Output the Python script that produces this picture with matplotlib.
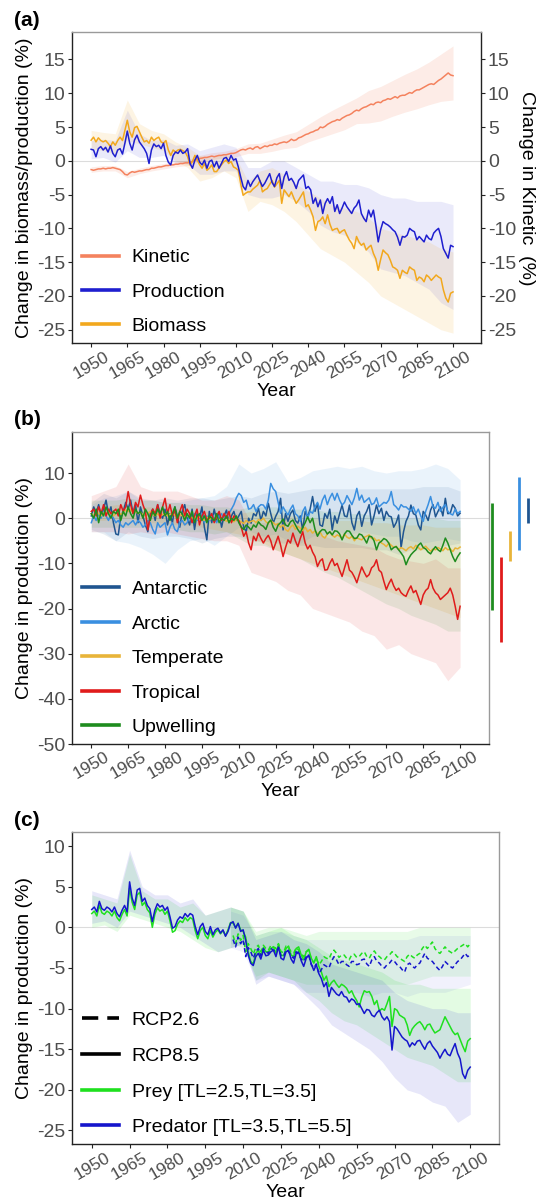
import matplotlib
matplotlib.use('Agg')  # sem interface gráfica

import numpy as np
import matplotlib.pyplot as plt
from matplotlib.lines import Line2D

plt.rcParams['font.family'] = ['Liberation Sans', 'DejaVu Sans']
plt.rcParams['axes.unicode_minus'] = False

# --- EIXOS DE TEMPO ---
anos = np.arange(1950, 2101)
anos_5 = np.arange(1950, 2101, 5)
anos_rcp26 = np.arange(2006, 2101)
anos_5_rcp26 = np.arange(2005, 2101, 5)
ticks_x = np.arange(1950, 2101, 15)

# =========================================================================
# (a) Kinetic / Production / Biomass
# =========================================================================
kinetic = [
    -1.3, -1.4, -1.3, -1.2, -1.2, -1.1, -1.2, -1.1, -1.1, -1.0,
    -1.1, -1.2, -1.3, -1.6, -2.0, -2.1, -1.8, -1.6, -1.7, -1.6,
    -1.5, -1.5, -1.4, -1.3, -1.3, -1.1, -1.1, -1.0, -0.9, -0.9,
    -0.8, -0.7, -0.7, -0.6, -0.6, -0.5, -0.5, -0.4, -0.4, -0.3,
    -0.3, -0.2, -0.1, 0.1, 0.2, 0.35, 0.4, 0.5, 0.5, 0.6,
    0.7, 0.6, 0.7, 0.8, 0.8, 0.9, 0.9, 1.0, 1.1, 1.1,
    1.2, 1.4, 1.6, 1.7, 1.6, 1.8, 1.9, 1.7, 2.0, 2.1,
    1.8, 2.0, 2.2, 2.1, 2.3, 2.3, 2.5, 2.4, 2.6, 2.7,
    2.8, 2.7, 2.9, 3.2, 3.0, 3.1, 3.4, 3.5, 3.7, 3.9,
    4.0, 4.2, 4.3, 4.5, 4.6, 5.0, 4.9, 5.1, 5.4, 5.6,
    5.8, 5.9, 6.1, 6.0, 6.3, 6.5, 6.7, 6.8, 7.0, 7.3,
    7.5, 7.4, 7.7, 7.9, 8.0, 8.2, 8.4, 8.3, 8.6, 8.7,
    8.6, 8.9, 9.0, 9.2, 9.1, 9.3, 9.5, 9.3, 9.6, 9.7,
    9.7, 9.9, 10.1, 10.0, 10.3, 10.5, 10.5, 10.7, 10.9, 11.1,
    11.3, 11.4, 11.3, 11.6, 11.9, 12.1, 12.4, 12.7, 13.0, 12.7, 12.6]
kinetic_min = [-1.7, -1.5, -1.5, -2.5, -1.9, -1.5, -1.2, -0.9, -0.7, -0.1, 0.2,
               0.4, 0.6, 1.1, 1.1, 1.4, 1.8, 2.0, 2.8, 3.4, 4.0, 4.6, 5.5, 5.6,
               5.9, 6.6, 7.2, 7.7, 8.3, 8.8, 9.0]
kinetic_max = [-0.9, -0.7, -0.7, -1.6, -1.1, -0.7, -0.4, -0.1, 0.1, 0.8, 1.2,
               1.4, 1.8, 2.5, 2.6, 3.2, 3.8, 4.3, 5.4, 6.5, 7.5, 8.4, 9.3, 10.4,
               11.0, 11.9, 12.8, 13.6, 14.6, 15.8, 17.0]

producao = [
    1.7, 1.6, 0.6, 1.8, 2.1, 1.6, 2.0, 1.3, 2.2, 1.1,
    0.6, 1.6, 1.8, 1.0, 2.6, 4.4, 2.6, 1.6, 3.1, 3.8,
    2.8, 2.3, 1.8, 1.1, -0.4, 1.6, 2.5, 2.1, 2.3, 1.8,
    2.6, 0.8, -0.2, -0.6, 0.8, 1.3, 1.1, 1.6, 1.1, 1.3,
    1.8, -0.4, -1.1, 0.1, 0.8, -0.2, -0.6, 0.1, -1.1, -0.1,
    0.1, -0.9, -0.1, -1.1, -0.4, 0.35, 0.5, -0.1, 0.8, 0.1,
    0.3, -0.9, -2.4, -3.8, -4.3, -2.9, -3.8, -3.1, -2.6, -2.1,
    -3.0, -3.8, -3.3, -2.6, -1.9, -3.2, -3.8, -2.5, -1.9, -4.1,
    -2.4, -1.6, -2.9, -2.6, -3.2, -4.1, -2.9, -2.5, -2.1, -4.1,
    -3.8, -4.3, -6.3, -5.5, -6.8, -5.8, -7.8, -6.3, -5.6, -6.3,
    -5.3, -7.5, -6.5, -7.8, -7.0, -6.1, -6.8, -7.3, -7.8, -7.0,
    -6.6, -5.8, -7.8, -8.5, -9.0, -7.3, -8.3, -7.3, -9.5, -12.0,
    -10.2, -9.0, -9.3, -9.5, -9.8, -10.2, -10.5, -11.3, -12.5, -11.2,
    -11.3, -11.0, -10.0, -10.3, -10.5, -11.7, -11.2, -11.6, -12.0, -11.0,
    -11.5, -11.7, -10.7, -10.3, -10.0, -11.2, -13.0, -13.7, -14.4, -12.5, -12.7]
producao_min = [0.3, 0.5, -0.2, 1.5, 0.5, 0.5, 0.8, -0.3, -0.5, -2.0, -2.0,
                -1.5, -1.5, -5.0, -5.5, -5.5, -5.0, -6.0, -7.5, -9.5, -10.5,
                -11.0, -12.0, -13.5, -16.0, -16.5, -17.0, -18.0, -19.0, -21.0, -22.0]
producao_max = [3.0, 3.2, 3.0, 7.5, 4.0, 3.0, 3.2, 2.3, 2.5, 1.5, 2.0, 2.5,
                2.0, -1.0, -1.0, 0.0, 0.0, -1.0, -2.0, -3.0, -3.0, -3.5, -3.5,
                -4.0, -5.0, -5.5, -5.5, -6.0, -6.0, -6.0, -6.5]

biomassa = [
    3.05, 3.5, 2.8, 3.4, 3.0, 2.8, 3.0, 2.6, 2.1, 2.8,
    2.3, 3.0, 3.5, 3.0, 4.5, 6.0, 4.3, 3.5, 4.9, 5.1,
    4.3, 3.5, 2.8, 3.0, 2.6, 3.5, 3.0, 3.3, 3.5, 2.8,
    2.6, 3.0, 1.6, 0.8, 1.6, 1.3, 1.6, 1.7, 1.5, 1.3,
    0.6, -0.6, -0.1, 0.8, 0.1, -0.6, -1.1, -0.4, -1.4, -1.1,
    -0.6, -1.6, -1.6, -1.1, -0.6, -0.15, 0.1, -0.4, -0.1, -0.9,
    -1.1, -1.4, -3.4, -5.1, -4.8, -4.6, -4.6, -4.2, -3.9, -3.6,
    -2.9, -4.6, -4.3, -4.1, -3.5, -2.9, -3.9, -3.4, -2.9, -6.3,
    -4.3, -4.8, -5.3, -4.6, -5.5, -6.3, -5.8, -5.2, -4.6, -6.8,
    -6.5, -7.3, -8.3, -10.3, -9.0, -8.8, -8.3, -9.3, -8.0, -9.4,
    -10.3, -10.1, -10.0, -10.7, -10.4, -10.2, -11.0, -11.7, -12.2, -13.0,
    -11.2, -12.0, -12.5, -12.2, -13.2, -12.8, -12.5, -13.7, -14.5, -16.2,
    -14.6, -13.2, -13.6, -13.9, -14.7, -15.7, -15.9, -16.2, -17.4, -16.2,
    -16.5, -16.7, -15.7, -16.0, -16.2, -17.7, -17.2, -17.4, -17.9, -16.9,
    -17.2, -17.7, -17.3, -16.9, -17.2, -17.4, -19.1, -20.3, -20.9, -19.6, -19.4]
biomassa_min = [1.8, 1.5, 1.0, 3.0, 2.5, 2.0, 1.5, 0.0, -1.0, -3.0, -2.5,
                -1.5, -2.5, -7.5, -6.0, -6.5, -7.5, -9.0, -11.0, -13.0, -14.0,
                -15.0, -16.5, -18.0, -20.0, -21.0, -22.0, -23.0, -24.0, -25.0, -25.5]
biomassa_max = [4.5, 4.2, 4.0, 9.0, 5.5, 4.5, 4.0, 2.8, 2.0, 0.8, 0.5, 1.0,
                0.5, -3.0, -1.5, -1.0, -2.0, -3.5, -4.5, -5.5, -6.5, -7.0, -7.5,
                -8.5, -10.0, -10.5, -11.0, -11.5, -12.0, -13.0, -13.5]

# =========================================================================
# (b) Regiões
# =========================================================================
antartico = [
    0.5, 2.5, 1.0, 3.0, 0.5, 2.0, 4.0, 1.0, 2.5, -1.0,
    -3.5, -3.7, 0.5, 1.5, 3.5, 2.0, 4.0, 1.0, 3.0, -1.0,
    2.5, 0.5, -1.5, -3.0, 1.0, 2.0, -0.5, 3.0, 1.0, 0.0,
    2.0, -1.5, 1.0, -1.0, 2.5, 0.5, -2.0, 1.5, 3.0, 0.0,
    -1.5, 2.0, -2.5, 1.0, 0.0, 2.5, -2.0, -4.8, 1.5, -1.0,
    2.0, -0.5, 1.0, -2.0, 0.5, 1.8, -1.0, 0.5, 1.5, -0.5,
    0.5, 1.5, -2.0, -3.0, 0.0, -1.1, 1.0, 0.5, 2.2, -0.5,
    1.5, 0.5, 3.3, 1.0, -1.1, 0.4, 1.5, 4.4, -2.6, 1.0,
    -0.7, 1.0, 1.8, -0.5, -1.1, 0.5, -2.6, 1.5, 0.3, 2.0,
    4.8, 1.5, 3.3, -1.5, -1.8, 1.0, 0.0, 2.0, -2.6, 0.5,
    -1.1, 1.0, 2.9, 0.5, 0.3, 2.9, -1.0, -2.6, 0.5, 1.5,
    -1.8, 0.5, 1.5, 3.0, -1.5, 0.5, 2.9, 1.0, 2.2, -0.5,
    1.5, 0.5, 0.3, -2.0, -1.0, 0.7, -6.5, -3.0, -0.7, 0.5,
    2.9, 1.0, 0.7, -1.5, -2.6, 1.5, 0.7, -0.5, 1.8, 3.0,
    0.3, 1.5, 2.5, 0.5, 4.4, 1.0, 1.1, 3.0, 2.2, 0.5, 1.1]
antartico_min = [-2.5, -3.5, -5.0, -3.0, -4.0, -4.5, -4.0, -4.0, -4.5, -5.5,
                 -4.5, -4.0, -4.0, -5.0, -5.0, -5.5, -5.5, -6.0, -6.0, -6.5,
                 -6.5, -6.5, -6.5, -7.0, -7.0, -8.0, -7.0, -7.0, -6.5, -6.0, -5.5]
antartico_max = [3.5, 5.5, 4.5, 6.0, 4.5, 4.0, 4.5, 4.0, 4.5, 4.5, 4.0, 4.5,
                 5.0, 4.5, 5.5, 6.0, 5.5, 6.0, 6.5, 6.5, 6.5, 6.5, 6.5, 6.5,
                 6.5, 6.5, 6.5, 7.0, 7.0, 7.0, 6.0]

artico = [
    -1.0, 0.5, -0.5, 1.0, 0.0, 1.5, 0.5, -0.5, 1.0, 0.0,
    -1.0, -0.5, -1.5, -2.0, -1.0, -1.5, -1.0, -0.5, -1.5, -0.5,
    -1.0, -2.0, -1.5, -0.5, -1.0, -2.5, -3.5, -1.0, -2.0, -1.5,
    -1.0, -3.7, -2.0, -1.0, -2.5, -3.0, -1.0, -0.5, -1.5, -1.0,
    0.5, -1.0, 1.0, -0.5, 0.0, 1.0, -1.0, 0.5, -0.5, 1.0,
    0.0, -1.0, 0.5, 1.0, -0.5, 0.5, 1.0, 2.0, 3.0, 4.5,
    5.5, 5.0, 3.5, 4.0, 2.0, 2.2, 3.0, 1.5, 2.5, 3.0,
    2.9, 2.0, 4.0, 7.7, 6.5, 5.9, 3.5, 1.1, 2.5, 1.5,
    0.7, 2.0, 2.9, 1.0, 0.5, -0.7, 1.5, 2.5, 0.0, 1.5,
    1.1, 2.5, 3.5, 2.0, 4.0, 5.1, 3.0, 4.5, 5.5, 4.0,
    5.5, 4.0, 2.9, 3.5, 5.0, 4.0, 3.0, 4.5, 6.6, 4.0,
    5.1, 3.5, 4.0, 4.5, 3.0, 3.3, 4.5, 2.5, 3.0, 3.5,
    3.3, 4.0, 5.9, 3.0, 2.5, 1.8, 3.0, 2.5, 2.5, 2.0,
    1.5, 2.5, 1.0, 2.0, 0.5, -0.7, 1.5, 3.0, 4.8, 2.5,
    2.2, 3.5, 1.5, 2.4, 3.0, 1.5, 1.0, 0.7, 2.0, 1.0, 1.5]
artico_min = [-3.0, -3.0, -5.0, -5.5, -6.5, -8.0, -10.0, -7.0, -5.0, -4.5,
              -6.0, -4.0, -2.0, -3.0, -4.0, -3.5, -5.0, -5.5, -4.0, -3.5,
              -3.0, -3.5, -3.0, -3.5, -4.0, -4.0, -5.0, -5.5, -5.0, -4.5, -5.0]
artico_max = [3.0, 4.5, 5.0, 6.0, 4.0, 4.0, 3.5, 3.5, 4.0, 4.5, 5.0, 7.0,
              12.0, 10.0, 11.0, 12.5, 8.0, 9.0, 10.5, 11.0, 11.5, 11.0, 11.5,
              10.5, 10.0, 10.5, 10.5, 11.0, 12.0, 11.0, 8.5]

temperado = [
    1.0, 0.5, 1.5, 1.0, 0.5, 1.2, 0.8, 1.5, 1.0, 0.5,
    1.0, 1.5, 0.8, 1.2, 1.8, 1.5, 2.0, 1.2, 1.5, 1.0,
    1.3, 0.8, 0.5, 1.0, 1.5, 0.8, 0.5, 1.0, 0.3, 0.8,
    1.0, 0.5, 0.8, 1.2, 0.6, 0.3, 0.8, 0.5, 0.2, 0.6,
    0.3, 0.0, 0.5, -0.2, 0.3, 0.0, -0.5, 0.2, -0.3, 0.0,
    -0.2, 0.3, -0.5, 0.0, -0.3, -0.7, -0.2, -0.5, -0.8, -0.3,
    -0.6, -0.8, -1.2, -0.5, -1.0, -0.7, -0.5, -1.0, -0.3, -0.5,
    0.0, -0.8, -1.2, -0.5, -1.0, -1.5, -1.2, -2.0, -1.5, -2.5,
    -2.9, -2.0, -1.5, -2.5, -1.8, -2.2, -2.8, -2.0, -3.0, -2.5,
    -3.3, -2.8, -3.5, -3.0, -4.0, -4.4, -3.5, -3.0, -3.8, -4.2,
    -3.7, -4.0, -4.5, -3.5, -4.2, -4.5, -4.0, -5.0, -4.3, -4.6,
    -4.8, -4.2, -4.0, -3.7, -4.5, -4.4, -5.0, -4.8, -5.5, -5.8,
    -6.3, -5.5, -6.0, -6.5, -6.2, -7.0, -6.5, -6.8, -7.2, -6.6,
    -6.3, -6.8, -6.0, -6.5, -7.0, -6.6, -6.2, -6.8, -7.3, -6.8,
    -7.0, -6.5, -6.8, -7.2, -6.5, -7.0, -6.8, -7.4, -6.6, -6.8, -6.4]
temperado_min = [-0.5, -0.5, 0.0, 0.0, -0.5, -1.0, -1.0, -1.5, -1.5, -2.0,
                 -2.5, -3.0, -3.5, -4.5, -5.5, -7.0, -8.0, -9.0, -10.0, -11.0,
                 -12.0, -13.0, -14.0, -15.0, -16.0, -17.0, -18.0, -19.0, -20.0,
                 -21.0, -22.0]
temperado_max = [2.5, 2.5, 3.0, 3.0, 2.5, 2.5, 2.0, 2.0, 1.5, 1.5, 1.5, 1.5,
                 1.0, 1.5, 1.5, 1.0, 0.5, 0.5, 0.0, 0.0, -0.5, -0.5, -0.5, -1.0,
                 -1.0, -1.5, -1.5, -1.5, -2.0, -2.0, -2.0]

tropical = [
    1.5, 2.0, 0.5, 2.5, 1.0, 3.0, 0.5, 2.0, 1.0, 1.5,
    2.0, 0.5, 3.0, 1.5, 2.5, 5.9, 3.0, 1.0, 3.5, 2.5,
    5.1, 3.0, 1.5, -2.6, 0.5, 2.0, 1.0, 3.0, 0.0, 2.5,
    4.4, 1.0, 3.0, 0.5, 2.0, -1.0, 1.5, 3.0, 0.5, 2.0,
    1.0, -1.0, 0.5, 2.0, -1.5, 0.5, 1.5, -0.5, 0.0, 1.0,
    -1.0, 0.5, 1.5, -0.5, 1.0, 0.0, 1.5, -1.0, 0.5, 0.0,
    -0.5, -2.0, -4.0, -3.0, -5.5, -7.0, -4.0, -5.0, -3.3, -4.5,
    -5.5, -4.5, -3.8, -5.0, -7.0, -5.5, -4.0, -6.0, -8.5, -6.5,
    -4.8, -5.5, -3.3, -5.0, -6.3, -4.5, -3.0, -5.5, -6.8, -6.0,
    -7.5, -8.5, -10.7, -9.5, -9.0, -11.5, -11.4, -10.0, -9.0, -10.5,
    -10.0, -11.5, -12.9, -11.0, -9.2, -11.5, -12.0, -13.0, -14.3, -12.5,
    -10.8, -12.0, -13.0, -12.5, -11.0, -10.5, -9.2, -11.5, -12.0, -14.0,
    -15.8, -14.5, -13.5, -15.0, -16.0, -15.5, -16.5, -17.0, -17.3, -16.0,
    -15.0, -16.5, -16.0, -17.5, -19.1, -17.0, -16.0, -15.5, -13.6, -15.5,
    -16.5, -17.0, -18.0, -17.5, -17.0, -16.5, -15.5, -17.0, -19.5, -22.4, -19.5]
tropical_min = [-3.0, -3.0, -3.0, -3.5, -3.0, -3.5, -3.0, -3.5, -4.0, -4.5,
                -5.0, -5.0, -6.0, -12.0, -13.0, -14.0, -16.0, -17.0, -20.0,
                -21.0, -22.0, -23.0, -25.0, -26.0, -29.0, -28.0, -30.0, -31.0,
                -32.0, -36.0, -33.0]
tropical_max = [5.0, 6.0, 7.0, 12.0, 7.0, 6.0, 6.0, 6.0, 5.0, 4.0, 4.0, 5.0,
                4.0, -1.0, -1.0, -1.0, 0.0, -1.0, -3.0, -4.0, -5.0, -5.5, -6.0,
                -6.5, -8.0, -9.0, -9.5, -10.0, -9.0, -11.0, -11.0]

ressurgencia = [
    1.0, 0.0, 2.0, -1.0, 1.5, 0.5, 2.5, 1.0, 0.0, 1.5,
    1.0, 2.0, -0.5, 1.5, 0.5, 2.5, 1.0, 0.0, 2.0, 1.0,
    1.5, 0.0, 2.0, 1.0, -0.5, 1.5, 0.5, 2.0, 1.0, 2.5,
    0.5, 1.5, -0.5, 1.0, 2.5, 0.0, 1.5, 1.0, -0.5, 1.0,
    0.0, 1.5, -1.0, 0.5, 1.0, -0.5, 0.5, -1.0, 0.5, 0.0,
    -0.5, 1.0, -1.0, 0.0, -0.5, 0.5, -1.0, 0.0, -0.5, 0.5,
    -1.0, -2.0, -2.5, -1.5, -2.0, -2.6, -1.5, -2.0, -0.8, -1.5,
    -1.8, -2.5, -1.0, -0.4, -2.0, -2.9, -1.5, -1.0, -0.2, -1.5,
    -1.8, -0.8, -0.4, -1.5, -2.5, -3.3, -2.0, -1.0, 0.3, -1.0,
    0.0, -2.5, -4.0, -3.0, -2.5, -2.6, -3.5, -3.0, -3.7, -2.8,
    -2.9, -3.5, -4.8, -3.5, -2.8, -2.9, -3.8, -4.5, -4.4, -3.5,
    -3.7, -4.5, -5.5, -4.0, -4.1, -5.0, -7.0, -5.5, -5.1, -4.5,
    -4.8, -5.5, -7.0, -6.5, -6.3, -7.0, -7.7, -8.5, -10.3, -9.0,
    -8.1, -7.5, -7.0, -6.0, -5.5, -6.5, -6.8, -7.5, -7.9, -7.0,
    -6.3, -7.0, -7.4, -6.0, -4.4, -5.5, -7.0, -8.5, -9.6, -8.5, -7.7]
ressurgencia_min = [-2.0, -2.0, -2.0, -2.0, -2.0, -2.0, -2.0, -2.5, -3.0, -3.0,
                    -3.5, -3.0, -4.5, -6.0, -6.0, -7.0, -8.0, -9.0, -10.5, -12.0,
                    -13.0, -14.5, -16.0, -17.5, -19.0, -20.0, -21.5, -22.5, -23.5,
                    -25.0, -25.0]
ressurgencia_max = [4.0, 4.0, 4.0, 4.5, 4.0, 4.0, 3.5, 3.5, 3.0, 3.0, 2.5, 2.5,
                    2.0, 2.5, 2.5, 2.5, 2.0, 2.0, 2.0, 1.5, 1.5, 1.0, 1.0, 0.5,
                    0.5, 0.0, 0.0, 0.0, 0.0, -0.5, -0.5]

# barras laterais (faixa final de cada região)
barras_nomes = ['Upwelling', 'Tropical', 'Temperate', 'Arctic', 'Antarctic']
barras_min = [-20.4, -27.5, -9.4, -7.0, -1.1]
barras_max = [3.3, -8.5, -2.8, 9.1, 4.4]

# =========================================================================
# (c) Presa / Predador, RCP2.6 e RCP8.5
# =========================================================================
predador_85 = [
    2.2, 2.5, 1.9, 3.2, 2.3, 2.1, 2.5, 2.3, 1.9, 2.5,
    1.7, 1.3, 2.1, 2.7, 1.9, 5.6, 3.6, 2.7, 4.6, 4.8,
    3.2, 3.6, 2.7, 2.3, 0.7, 2.1, 2.9, 2.5, 2.7, 2.1,
    2.5, 1.3, -0.1, 0.1, 0.9, 1.3, 1.1, 1.7, 1.3, 1.7,
    1.5, 0.1, -0.9, 0.1, 0.5, -0.5, -0.9, 0.1, -0.9, -0.3,
    -0.1, -0.7, -0.3, -1.1, -0.5, 0.5, 0.7, -0.1, 0.5, -0.5,
    -0.3, -1.6, -3.4, -4.4, -4.7, -3.6, -3.2, -3.9, -2.8, -3.5,
    -3.4, -3.0, -2.8, -3.6, -2.4, -3.8, -4.0, -3.0, -2.8, -3.9,
    -4.4, -3.2, -3.0, -4.1, -4.8, -3.8, -3.4, -4.5, -5.3, -4.6,
    -5.7, -6.3, -7.3, -6.8, -8.5, -7.4, -7.8, -8.2, -8.4, -7.9,
    -8.5, -8.6, -9.2, -8.8, -9.0, -9.5, -9.4, -10.0, -10.6, -10.1,
    -10.2, -10.8, -11.0, -10.5, -10.2, -11.0, -11.4, -11.0, -11.6, -15.1,
    -12.2, -12.5, -13.0, -13.5, -13.8, -14.0, -14.7, -14.2, -14.5, -14.0,
    -13.9, -14.5, -15.0, -14.3, -14.0, -14.6, -15.0, -15.4, -16.1, -15.5,
    -15.0, -15.6, -15.8, -15.0, -14.3, -15.5, -16.2, -18.0, -18.6, -17.6, -17.2]
predador_85_min = [0.5, 0.8, 0.0, 2.0, 1.5, 1.0, 0.5, 0.0, -1.0, -2.0, -3.0,
                   -2.5, -2.0, -7.0, -6.0, -6.5, -7.0, -8.5, -10.0, -12.0, -13.0,
                   -14.0, -15.0, -16.5, -18.5, -20.0, -20.5, -21.5, -22.0, -24.0, -23.0]
predador_85_max = [4.5, 4.0, 3.5, 9.5, 5.0, 4.0, 4.0, 3.0, 3.5, 1.5, 2.0, 2.5,
                   2.0, -1.5, -1.0, -0.5, -1.5, -2.0, -3.0, -4.5, -5.0, -5.5,
                   -6.0, -6.5, -8.0, -9.0, -9.5, -10.0, -10.0, -10.5, -10.5]

presa_85 = [
    1.7, 2.0, 1.4, 2.7, 1.8, 1.6, 2.0, 1.8, 1.4, 2.0,
    1.2, 0.8, 1.6, 2.2, 1.4, 4.8, 3.1, 2.2, 4.0, 4.3,
    2.7, 3.1, 2.2, 1.8, 0.0, 1.6, 2.4, 2.0, 2.2, 1.6,
    2.0, 0.8, -0.6, -0.4, 0.4, 0.8, 0.6, 1.2, 0.8, 1.2,
    1.0, -0.4, -1.4, -0.4, 0.0, -1.0, -1.4, -0.4, -1.2, -0.6,
    -0.3, -0.8, -0.4, -1.0, -0.3, 0.6, 0.5, 0.0, 0.5, -0.3,
    -0.5, -1.2, -3.0, -4.2, -4.5, -3.2, -2.8, -3.5, -2.5, -3.0,
    -3.0, -2.6, -2.4, -3.2, -2.1, -3.4, -3.5, -2.6, -2.3, -3.4,
    -3.6, -2.6, -2.4, -3.4, -4.0, -3.0, -2.7, -3.8, -4.4, -3.6,
    -4.8, -5.5, -6.5, -6.0, -7.3, -6.8, -6.5, -7.0, -7.4, -7.0,
    -7.2, -7.5, -8.1, -7.8, -8.5, -9.0, -9.8, -8.6, -7.8, -8.0,
    -7.9, -8.5, -9.5, -9.0, -10.3, -10.0, -10.2, -9.4, -8.5, -12.2,
    -10.0, -10.2, -10.8, -11.0, -11.2, -12.0, -13.3, -12.5, -12.1, -11.8,
    -11.6, -12.0, -12.6, -12.0, -11.9, -12.5, -13.0, -12.8, -12.6, -11.8,
    -11.0, -11.6, -12.2, -12.8, -13.2, -13.0, -13.8, -14.6, -15.3, -14.0, -13.7]
presa_85_min = [0.0, 0.3, -0.5, 1.5, 1.0, 0.5, 0.0, -0.5, -1.5, -2.5, -3.0,
                -2.5, -2.0, -6.5, -5.5, -6.0, -6.5, -8.0, -9.0, -10.5, -11.5,
                -12.0, -13.0, -14.0, -15.0, -16.0, -16.5, -17.0, -18.0, -19.0, -19.0]
presa_85_max = [4.0, 3.5, 3.0, 9.0, 4.5, 3.5, 3.5, 2.5, 3.0, 1.5, 2.0, 2.5,
                2.0, -1.0, -0.5, 0.0, -1.0, -1.5, -2.5, -3.5, -4.0, -4.5, -5.0,
                -5.5, -6.5, -7.0, -7.0, -7.5, -7.5, -7.5, -7.5]

predador_26 = [
    -1.5, -2.4, -1.2, -2.0,
    -1.5, -3.6, -2.5, -3.0, -3.8, -3.0, -2.6, -3.5, -2.6, -3.0,
    -3.2, -2.6, -2.8, -3.0, -2.5, -3.5, -3.6, -2.8, -3.0, -3.5,
    -3.8, -3.0, -3.3, -3.9, -4.2, -3.6, -3.4, -4.6, -5.0, -4.5,
    -5.7, -5.2, -4.6, -4.8, -5.0, -4.2, -3.6, -4.0, -4.6, -4.2,
    -4.2, -4.6, -4.8, -4.2, -4.2, -4.6, -4.5, -4.0, -3.9, -4.5,
    -4.8, -4.0, -3.6, -4.2, -4.4, -4.8, -5.0, -4.6, -4.4, -4.0,
    -4.2, -4.6, -4.8, -5.2, -5.5, -4.6, -4.4, -4.8, -5.0, -4.6,
    -4.4, -3.8, -3.2, -3.8, -4.0, -4.2, -4.6, -5.0, -5.3, -4.8,
    -4.2, -4.5, -4.8, -5.0, -4.6, -4.2, -4.0, -3.6, -3.2, -3.6, -3.4]
predador_26_min = [-2.5, -3.0, -6.5, -6.0, -6.5, -7.0, -8.0, -8.0, -8.0, -8.0,
                   -8.0, -8.5, -8.0, -8.0, -8.5, -8.0, -8.0, -8.0, -7.5, -7.0]
predador_26_max = [2.0, 1.5, -1.0, -0.5, -0.5, -1.0, -1.5, -1.5, -1.5, -1.5,
                   -1.5, -1.5, -1.5, -1.5, -1.5, -1.0, -1.0, -1.0, -1.0, -1.0]

presa_26 = [
    -1.0, -2.0, -0.8, -1.6,
    -1.0, -3.0, -2.0, -2.6, -3.3, -2.5, -2.2, -3.0, -2.2, -2.6,
    -2.8, -2.2, -2.4, -2.6, -2.0, -3.0, -3.1, -2.3, -2.5, -3.0,
    -3.2, -2.5, -2.8, -3.3, -3.6, -3.0, -2.8, -3.9, -4.3, -3.8,
    -4.6, -4.2, -3.6, -3.8, -3.9, -3.2, -2.8, -3.2, -3.7, -3.4,
    -3.4, -3.8, -4.0, -3.4, -3.3, -3.7, -3.6, -3.2, -3.0, -3.6,
    -3.8, -3.2, -2.9, -3.4, -3.6, -3.9, -4.0, -3.6, -3.4, -3.0,
    -3.2, -3.6, -3.8, -4.0, -4.2, -3.6, -3.3, -3.6, -3.8, -3.4,
    -3.2, -2.6, -2.2, -2.6, -2.2, -1.8, -2.6, -3.0, -3.2, -2.8,
    -2.4, -2.8, -3.0, -3.2, -2.9, -2.6, -2.4, -2.2, -2.0, -2.4, -2.0]
presa_26_min = [-2.0, -2.5, -6.0, -5.5, -6.0, -6.5, -7.0, -7.0, -7.0, -7.0,
                -7.0, -7.0, -7.0, -7.0, -7.0, -6.5, -6.0, -6.0, -6.0, -6.0]
presa_26_max = [2.5, 2.0, -0.5, 0.0, 0.0, -0.5, -1.0, -0.5, -0.5, -0.5,
                -0.5, -0.5, -0.5, -0.5, -0.5, 0.0, 0.0, 0.0, 0.0, 0.0]

# --- CORES ---
cor_kinetic = '#F4825E'
cor_producao = '#1F1FCF'
cor_biomassa = '#F2A81D'
cor_antartico = '#1F5590'
cor_artico = '#3A8FE0'
cor_temperado = '#E8B439'
cor_tropical = '#E01B1B'
cor_ressurgencia = '#1E8C1E'
cor_presa = '#1FE01F'
cor_predador = '#1515CC'

TAM = 14
COR_EIXO = '#222222'
COR_BORDA = '#9A9A9A'
COR_TICK = '#4D4D4D'


def estilo_eixo(ax, ylim, yticks):
    ax.set_xlim(1942.2, 2111.6)
    ax.set_ylim(*ylim)
    ax.set_xticks(ticks_x)
    ax.set_yticks(yticks)
    ax.tick_params(axis='both', direction='out', length=3, width=0.8,
                   color=COR_EIXO, labelcolor=COR_TICK, labelsize=TAM, pad=2)
    ax.tick_params(axis='x', labelrotation=30, labelsize=12.5, pad=1)
    for lado in ['left', 'bottom']:
        ax.spines[lado].set_color(COR_EIXO)
        ax.spines[lado].set_linewidth(1.0)
    for lado in ['top', 'right']:
        ax.spines[lado].set_color(COR_BORDA)
        ax.spines[lado].set_linewidth(1.0)
    ax.axhline(0, color='#DCDCDC', lw=0.8, zorder=0)
    ax.set_xlabel('Year', fontsize=TAM, labelpad=1)


def legenda(ax, itens, pos, espaco):
    handles = [Line2D([], [], color=c, lw=2.6, ls=ls) for c, ls, _ in itens]
    rotulos = [r for _, _, r in itens]
    ax.legend(handles, rotulos, loc='lower left', bbox_to_anchor=pos,
              frameon=False, fontsize=TAM, borderpad=0, borderaxespad=0,
              handlelength=1.9, handletextpad=0.65, labelspacing=espaco)


fig = plt.figure(figsize=(5.36, 12.01), dpi=100)

# ---------------- (a) ----------------
ax_a = fig.add_axes([0.1349, 0.7142, 0.7625, 0.2588])
ax_a.fill_between(anos_5, kinetic_min, kinetic_max, color=cor_kinetic, alpha=0.15, lw=0)
ax_a.fill_between(anos_5, producao_min, producao_max, color=cor_producao, alpha=0.09, lw=0)
ax_a.fill_between(anos_5, biomassa_min, biomassa_max, color=cor_biomassa, alpha=0.12, lw=0)
ax_a.plot(anos, kinetic, color=cor_kinetic, lw=1.1)
ax_a.plot(anos, biomassa, color=cor_biomassa, lw=1.1)
ax_a.plot(anos, producao, color=cor_producao, lw=1.1)
estilo_eixo(ax_a, (-27.0, 19.0), np.arange(-25, 16, 5))
ax_a.spines['right'].set_color(COR_EIXO)
ax_a.set_ylabel('Change in biomass/production (%)', fontsize=TAM, labelpad=3)
legenda(ax_a, [(cor_kinetic, '-', 'Kinetic'), (cor_producao, '-', 'Production'),
               (cor_biomassa, '-', 'Biomass')], (0.024, 0.026), 0.86)

ax_a2 = ax_a.twinx()
ax_a2.set_ylim(-27.0, 19.0)
ax_a2.set_yticks(np.arange(-25, 16, 5))
ax_a2.tick_params(axis='y', direction='out', length=3, width=0.8,
                  color=COR_EIXO, labelcolor=COR_TICK, labelsize=TAM, pad=2)
for s in ax_a2.spines.values():
    s.set_visible(False)
ax_a2.set_ylabel('Change in Kinetic  (%)', fontsize=TAM, rotation=270,
                 labelpad=1, va='bottom')

# ---------------- (b) ----------------
ax_b = fig.add_axes([0.1345, 0.3805, 0.7771, 0.2595])
regioes = [
    (antartico, antartico_min, antartico_max, cor_antartico, 'Antarctic', 0.1),
    (artico, artico_min, artico_max, cor_artico, 'Arctic', 0.1),
    (temperado, temperado_min, temperado_max, cor_temperado, 'Temperate', 0.16),
    (tropical, tropical_min, tropical_max, cor_tropical, 'Tropical', 0.1),
    (ressurgencia, ressurgencia_min, ressurgencia_max, cor_ressurgencia, 'Upwelling', 0.1),
]
for serie, smin, smax, cor, nome, alfa in regioes:
    ax_b.fill_between(anos_5, smin, smax, color=cor, alpha=alfa, lw=0)
for serie, smin, smax, cor, nome, alfa in regioes:
    ax_b.plot(anos, serie, color=cor, lw=1.1)
estilo_eixo(ax_b, (-50, 19.0), np.arange(-50, 11, 10))
ax_b.set_ylabel('Change in production (%)', fontsize=TAM, labelpad=3)
legenda(ax_b, [(r[3], '-', r[4]) for r in regioes], (0.024, 0.025), 0.87)

ax_barras = fig.add_axes([489 / 536, 0.3805, 47 / 536, 0.2595])
ax_barras.set_ylim(-50, 19.0)
ax_barras.set_xlim(0.627, 5.94)
cores_barras = [cor_ressurgencia, cor_tropical, cor_temperado, cor_artico, cor_antartico]
ax_barras.vlines(np.arange(1, 6), barras_min, barras_max, colors=cores_barras, lw=2.0)
ax_barras.axis('off')

# ---------------- (c) ----------------
ax_c = fig.add_axes([0.1345, 0.0472, 0.7974, 0.2598])
ax_c.fill_between(anos_5, presa_85_min, presa_85_max, color=cor_presa, alpha=0.12, lw=0)
ax_c.fill_between(anos_5, predador_85_min, predador_85_max, color=cor_predador, alpha=0.1, lw=0)
ax_c.fill_between(anos_5_rcp26, presa_26_min, presa_26_max, color=cor_presa, alpha=0.1, lw=0)
ax_c.fill_between(anos_5_rcp26, predador_26_min, predador_26_max, color=cor_predador, alpha=0.06, lw=0)
ax_c.plot(anos, presa_85, color=cor_presa, lw=1.1)
ax_c.plot(anos, predador_85, color=cor_predador, lw=1.1)
ax_c.plot(anos_rcp26, presa_26, color=cor_presa, lw=1.1, ls=(0, (3, 2)))
ax_c.plot(anos_rcp26, predador_26, color=cor_predador, lw=1.1, ls=(0, (3, 2)))
estilo_eixo(ax_c, (-26.7, 11.7), np.arange(-25, 11, 5))
ax_c.set_ylabel('Change in production (%)', fontsize=TAM, labelpad=3)
legenda(ax_c, [('black', (0, (4.5, 2.5)), 'RCP2.6'), ('black', '-', 'RCP8.5'),
               (cor_presa, '-', 'Prey [TL=2.5,TL=3.5]'),
               (cor_predador, '-', 'Predator [TL=3.5,TL=5.5]')], (0.023, 0.026), 0.93)

# rótulos dos painéis
for y, letra in [(0.9833, '(a)'), (0.6511, '(b)'), (0.3166, '(c)')]:
    fig.text(0.0256, y, letra, fontsize=15, fontweight='bold', va='center', ha='left')

plt.savefig('out.png', dpi=100)
